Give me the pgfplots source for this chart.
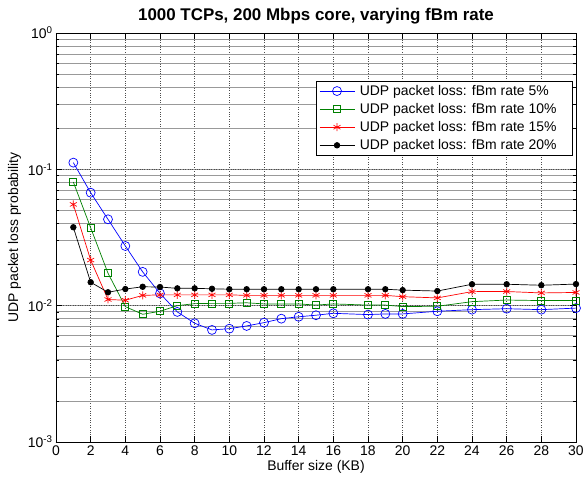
\documentclass[border=0pt]{standalone}
\usepackage{fontspec}
\setmainfont{Liberation Sans}
\usepackage{pgfplots}
\pgfplotsset{compat=1.18}

\begin{document}
\begin{tikzpicture}
\begin{axis}[
    scale only axis,
    width=520bp, height=409bp,
    ymode=log,
    xmin=0, xmax=30, ymin=1e-3, ymax=1,
    xtick={0,2,...,30},
    ytick={1e-3,1e-2,1e-1,1},
    yticklabels={10\textsuperscript{-3},10\textsuperscript{-2},10\textsuperscript{-1},10\textsuperscript{0}},
    /pgf/number format/assume math mode=true,
    tick label style={font=\fontsize{14}{16}\selectfont},
    label style={font=\fontsize{14}{16}\selectfont},
    xlabel={Buffer size (KB)},
    ylabel={UDP packet loss probability},
    xlabel style={yshift=2bp},
    title={1000 TCPs, 200 Mbps core, varying fBm rate},
    title style={font=\fontsize{17}{19}\selectfont\bfseries, yshift=-1bp},
    xmajorgrids, ymajorgrids, yminorgrids,
    major grid style={black!70, dotted, line width=0.6pt},
    minor grid style={black!40, line width=0.9pt},
    axis line style={black, line width=0.8pt},
    tick style={black, line width=0.6pt},
    major tick length=6bp, minor tick length=3bp,
    legend style={at={(0.994,0.883)}, anchor=north east, draw=black, fill=white,
        font=\fontsize{14}{16}\selectfont, cells={anchor=west}, row sep=2.5bp,
        inner xsep=3bp, inner ysep=2bp, line width=0.8pt},
    legend image code/.code={\draw[mark repeat=2, mark phase=2] plot coordinates {(0bp,0bp) (17.5bp,0bp) (35bp,0bp)};},
]
\addplot[blue, line width=0.7pt, mark=o, mark size=4.5bp, mark options={solid}] coordinates {
    (1,0.112) (2,0.0674) (3,0.0430) (4,0.0274) (5,0.0177) (6,0.0123) (7,0.0090)
    (8,0.00743) (9,0.00664) (10,0.00678) (11,0.00710) (12,0.00751) (13,0.00803)
    (14,0.00829) (15,0.00851) (16,0.00879) (18,0.00860) (19,0.0087) (20,0.0087)
    (22,0.0091) (24,0.00935) (26,0.0095) (28,0.00935) (30,0.0096)
};
\addlegendentry{\hspace*{3bp}UDP packet loss: fBm rate 5\%\hspace*{11bp}}
\addplot[green!50!black, line width=0.7pt, mark=square, mark size=3.5bp] coordinates {
    (1,0.0807) (2,0.0373) (3,0.0173) (4,0.00984) (5,0.00865) (6,0.0091) (7,0.0100)
    (8,0.01035) (9,0.0104) (10,0.0104) (11,0.0105) (12,0.0103) (13,0.0103)
    (14,0.0103) (15,0.0101) (16,0.0103) (18,0.0101) (19,0.0101) (20,0.00985)
    (22,0.0099) (24,0.0107) (26,0.0110) (28,0.0109) (30,0.0109)
};
\addlegendentry{\hspace*{3bp}UDP packet loss: fBm rate 10\%\hspace*{11bp}}
\addplot[red, line width=0.7pt, mark=asterisk, mark size=4bp] coordinates {
    (1,0.0553) (2,0.0216) (3,0.0111) (4,0.01096) (5,0.0119) (6,0.0120) (7,0.0120)
    (8,0.0120) (9,0.0120) (10,0.0120) (11,0.0119) (12,0.0119) (13,0.0119)
    (14,0.0119) (15,0.0119) (16,0.0119) (18,0.0119) (19,0.0119) (20,0.01164)
    (22,0.0114) (24,0.01268) (26,0.0127) (28,0.0124) (30,0.0125)
};
\addlegendentry{\hspace*{3bp}UDP packet loss: fBm rate 15\%\hspace*{11bp}}
\addplot[black, line width=0.7pt, mark=*, mark size=2.8bp] coordinates {
    (1,0.0376) (2,0.01486) (3,0.01254) (4,0.01324) (5,0.01376) (6,0.0137) (7,0.0134)
    (8,0.0134) (9,0.0133) (10,0.0132) (11,0.0132) (12,0.0132) (13,0.0132)
    (14,0.0132) (15,0.0132) (16,0.0132) (18,0.0132) (19,0.0132) (20,0.0130)
    (22,0.0128) (24,0.01436) (26,0.01436) (28,0.01412) (30,0.0144)
};
\addlegendentry{\hspace*{3bp}UDP packet loss: fBm rate 20\%\hspace*{11bp}}
\end{axis}
\pgfresetboundingbox
\useasboundingbox ([xshift=-56bp,yshift=-36bp]current axis.south west) rectangle ([xshift=8bp,yshift=33bp]current axis.north east);
\end{tikzpicture}
\end{document}
